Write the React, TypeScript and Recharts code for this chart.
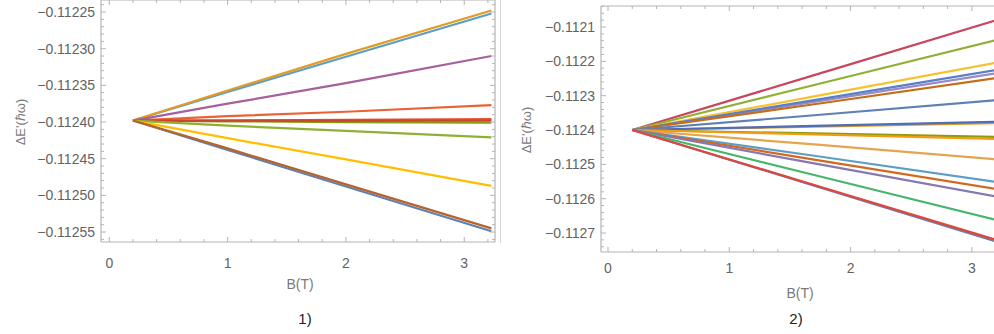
import { LineChart, Line, XAxis, YAxis } from 'recharts';

const FONT = '"Liberation Sans", Arial, sans-serif';
const FRAME = '#b4b4b4';
const TICK_TEXT = '#636363';

// ---- panel 1) : level shifts vs field ----
const field1 = [0.2, 1, 2, 3.23];
const p1LightBlue = [-0.112398, -0.112359, -0.112311, -0.112252];
const p1Orange = [-0.112398, -0.112357, -0.112307, -0.112248];
const p1Purple = [-0.112398, -0.112375, -0.112347, -0.11231];
const p1Tomato = [-0.112398, -0.112392, -0.112386, -0.112377];
const p1Olive = [-0.112398, -0.112399, -0.1124, -0.112401];
const p1Red = [-0.112398, -0.112398, -0.112397, -0.112396];
const p1DarkRed = [-0.112398, -0.112398, -0.112398, -0.112398];
const p1Green = [-0.112398, -0.112405, -0.112412, -0.112421];
const p1Yellow = [-0.112398, -0.112422, -0.112451, -0.112487];
const p1Blue = [-0.112398, -0.112438, -0.112488, -0.112549];
const p1Brown = [-0.112398, -0.112436, -0.112485, -0.112545];

const series1 = [
  { key: 'lightBlue', color: '#5d9ec7', values: p1LightBlue },
  { key: 'orange', color: '#e19c24', values: p1Orange },
  { key: 'purple', color: '#a5609d', values: p1Purple },
  { key: 'tomato', color: '#eb6235', values: p1Tomato },
  { key: 'olive', color: '#8a9a10', values: p1Olive },
  { key: 'red', color: '#e95536', values: p1Red },
  { key: 'darkRed', color: '#c8452e', values: p1DarkRed },
  { key: 'green', color: '#8fb032', values: p1Green },
  { key: 'yellow', color: '#ffbf00', values: p1Yellow },
  { key: 'blue', color: '#5e81b5', values: p1Blue },
  { key: 'brown', color: '#b8632a', values: p1Brown },
];

// ---- panel 2) ----
const field2 = [0.2, 1.7, 3.2];
const p2Crimson = [-0.1124, -0.11224, -0.11208];
const p2YellowGreen = [-0.1124, -0.112269, -0.112138];
const p2Gold = [-0.1124, -0.112302, -0.112204];
const p2Lavender = [-0.1124, -0.112318, -0.112235];
const p2Blue = [-0.1124, -0.112313, -0.112225];
const p2Brown = [-0.1124, -0.112325, -0.112249];
const p2Steel = [-0.1124, -0.112357, -0.112313];
const p2OrangeA = [-0.1124, -0.11239, -0.11238];
const p2DarkBlue = [-0.1124, -0.112388, -0.112376];
const p2Olive = [-0.1124, -0.11241, -0.11242];
const p2OrangeB = [-0.1124, -0.112413, -0.112426];
const p2Sandy = [-0.1124, -0.112442, -0.112485];
const p2LightBlue = [-0.1124, -0.112475, -0.112551];
const p2Rust = [-0.1124, -0.112486, -0.112572];
const p2Purple = [-0.1124, -0.112497, -0.112594];
const p2Green = [-0.1124, -0.112531, -0.112662];
const p2BlueLow = [-0.1124, -0.112562, -0.112725];
const p2Red = [-0.1124, -0.11256, -0.11272];

const series2 = [
  { key: 'crimson', color: '#c8475f', values: p2Crimson },
  { key: 'yellowGreen', color: '#8fb032', values: p2YellowGreen },
  { key: 'gold', color: '#f7c12f', values: p2Gold },
  { key: 'lavender', color: '#9a8ac8', values: p2Lavender },
  { key: 'blue', color: '#5b7fc4', values: p2Blue },
  { key: 'brown', color: '#c56e1a', values: p2Brown },
  { key: 'steel', color: '#5e81b5', values: p2Steel },
  { key: 'orangeA', color: '#e19c24', values: p2OrangeA },
  { key: 'darkBlue', color: '#4f6db8', values: p2DarkBlue },
  { key: 'olive', color: '#8f9a10', values: p2Olive },
  { key: 'orangeB', color: '#f39c12', values: p2OrangeB },
  { key: 'sandy', color: '#e5a550', values: p2Sandy },
  { key: 'lightBlue', color: '#5d9ec7', values: p2LightBlue },
  { key: 'rust', color: '#d2691e', values: p2Rust },
  { key: 'purple', color: '#8778b3', values: p2Purple },
  { key: 'green', color: '#47b66d', values: p2Green },
  { key: 'blueLow', color: '#5e81b5', values: p2BlueLow },
  { key: 'red', color: '#e2463a', values: p2Red },
];

// axis ranges and ticks
const bMajor = [0, 1, 2, 3];
const e1Major = [-0.11255, -0.1125, -0.11245, -0.1124, -0.11235, -0.1123, -0.11225];
const e2Major = [-0.1127, -0.1126, -0.1125, -0.1124, -0.1123, -0.1122, -0.1121];
const bDomain1: [number, number] = [-0.07, 3.26];
const eDomain1: [number, number] = [-0.1125636, -0.1122336];
const bDomain2: [number, number] = [-0.0577, 3.232];
const eDomain2: [number, number] = [-0.1127553, -0.1120388];

type Row = Record<string, number>;

function buildRows(field: number[], series: { key: string; values: number[] }[]): Row[] {
  return field.map((b, i) => {
    const row: Row = { b };
    series.forEach((s) => {
      row[s.key] = s.values[i];
    });
    return row;
  });
}

// every multiple of step inside [lo, hi]
function tickRange(lo: number, hi: number, step: number): number[] {
  const out: number[] = [];
  for (let k = Math.ceil(lo / step - 1e-6); k * step <= hi + 1e-12; k++) {
    out.push(Math.round(k * step * 1e9) / 1e9);
  }
  return out;
}

const rows1 = buildRows(field1, series1);
const rows2 = buildRows(field2, series2);

const fmtB = (v: number) => String(Math.round(v));
const fmtE1 = (v: number) => v.toFixed(5).replace('-', '\u2212');
const fmtE2 = (v: number) => v.toFixed(4).replace('-', '\u2212');

// frame tick: short mark pointing into the plot, label outside on major ticks
function FrameTick(props: any) {
  const { x, y, payload, side, majors, format, gap } = props;
  const v = payload.value as number;
  const major = majors.some((m: number) => Math.abs(m - v) < 1e-9);
  const len = major ? 5 : 3;
  let line;
  if (side === 'left') line = <line x1={x} y1={y} x2={x + len} y2={y} />;
  else if (side === 'right') line = <line x1={x} y1={y} x2={x - len} y2={y} />;
  else if (side === 'top') line = <line x1={x} y1={y} x2={x} y2={y + len} />;
  else line = <line x1={x} y1={y} x2={x} y2={y - len} />;
  let label = null;
  if (major && format) {
    if (side === 'left') {
      label = (
        <text x={x - gap} y={y} textAnchor="end" dominantBaseline="central" stroke="none" fill={TICK_TEXT} fontSize={14} fontFamily={FONT}>
          {format(v)}
        </text>
      );
    } else if (side === 'bottom') {
      label = (
        <text x={x} y={y + gap} textAnchor="middle" dominantBaseline="central" stroke="none" fill={TICK_TEXT} fontSize={14} fontFamily={FONT}>
          {format(v)}
        </text>
      );
    }
  }
  return (
    <g stroke={FRAME} strokeWidth={1}>
      {line}
      {label}
    </g>
  );
}

function Panel(props: {
  rows: Row[];
  series: { key: string; color: string }[];
  bDomain: [number, number];
  eDomain: [number, number];
  eMajor: number[];
  eStep: number;
  fmtE: (v: number) => string;
  xGap: number;
  width: number;
  height: number;
  margin: { top: number; right: number; bottom: number; left: number };
}) {
  const { rows, series, bDomain, eDomain, eMajor, eStep, fmtE, xGap, width, height, margin } = props;
  const bTicks = tickRange(bDomain[0], bDomain[1], 0.2);
  const eTicks = tickRange(eDomain[0], eDomain[1], eStep);
  const axisCommon = {
    type: 'number' as const,
    allowDataOverflow: true,
    interval: 0 as const,
    tickLine: false,
    tickSize: 0,
    tickMargin: 0,
    axisLine: { stroke: FRAME, strokeWidth: 1.2 },
  };
  // each frame axis takes a 1px band outside the plot box
  return (
    <LineChart width={width} height={height} data={rows} margin={margin}>
      <XAxis
        {...axisCommon}
        dataKey="b"
        domain={bDomain}
        ticks={bTicks}
        height={1}
        tick={<FrameTick side="bottom" majors={bMajor} format={fmtB} gap={xGap} />}
      />
      <XAxis
        {...axisCommon}
        xAxisId="top"
        orientation="top"
        dataKey="b"
        domain={bDomain}
        ticks={bTicks}
        height={1}
        tick={<FrameTick side="top" majors={bMajor} />}
      />
      <YAxis
        {...axisCommon}
        domain={eDomain}
        ticks={eTicks}
        width={1}
        tick={<FrameTick side="left" majors={eMajor} format={fmtE} gap={6} />}
      />
      <YAxis
        {...axisCommon}
        yAxisId="right"
        orientation="right"
        domain={eDomain}
        ticks={eTicks}
        width={1}
        tick={<FrameTick side="right" majors={eMajor} />}
      />
      {series.map((s) => (
        <Line
          key={s.key}
          type="linear"
          dataKey={s.key}
          stroke={s.color}
          strokeWidth={2.2}
          dot={false}
          activeDot={false}
          isAnimationActive={false}
        />
      ))}
    </LineChart>
  );
}

const textBase: React.CSSProperties = {
  position: 'absolute',
  fontFamily: FONT,
  whiteSpace: 'nowrap',
  lineHeight: 1,
};

export default function App() {
  return (
    <div style={{ position: 'absolute', left: 0, top: 0, width: 994, height: 334, overflow: 'hidden', background: '#fff' }}>
      <div style={{ position: 'absolute', left: 0, top: -1 }}>
        <Panel
          rows={rows1}
          series={series1}
          bDomain={bDomain1}
          eDomain={eDomain1}
          eMajor={e1Major}
          eStep={0.00001}
          fmtE={fmtE1}
          xGap={21}
          width={500}
          height={281}
          margin={{ top: 0, right: 4, bottom: 37, left: 100 }}
        />
      </div>
      <div style={{ position: 'absolute', left: 500, top: 0, width: 1, height: 243, background: '#d6d6d6' }} />
      <div style={{ position: 'absolute', left: 500, top: 0 }}>
        <Panel
          rows={rows2}
          series={series2}
          bDomain={bDomain2}
          eDomain={eDomain2}
          eMajor={e2Major}
          eStep={0.00002}
          fmtE={fmtE2}
          xGap={16}
          width={510}
          height={290}
          margin={{ top: 5, right: 9, bottom: 37, left: 100 }}
        />
      </div>

      {/* axis titles and captions */}
      <div style={{ ...textBase, left: 20, top: 122, fontSize: 13, color: '#7a7a7a', transform: 'translate(-50%, -50%) rotate(-90deg)' }}>
        ΔE'(ℏω)
      </div>
      <div style={{ ...textBase, left: 300, top: 284, fontSize: 14, color: '#7a7a7a', transform: 'translate(-50%, -50%)' }}>
        B(T)
      </div>
      <div style={{ ...textBase, left: 305, top: 318, fontSize: 15, color: '#222', transform: 'translate(-50%, -50%)' }}>
        1)
      </div>
      <div style={{ ...textBase, left: 526, top: 130, fontSize: 13, color: '#7a7a7a', transform: 'translate(-50%, -50%) rotate(-90deg)' }}>
        ΔE'(ℏω)
      </div>
      <div style={{ ...textBase, left: 800, top: 293, fontSize: 14, color: '#7a7a7a', transform: 'translate(-50%, -50%)' }}>
        B(T)
      </div>
      <div style={{ ...textBase, left: 796, top: 318, fontSize: 15, color: '#222', transform: 'translate(-50%, -50%)' }}>
        2)
      </div>
    </div>
  );
}
